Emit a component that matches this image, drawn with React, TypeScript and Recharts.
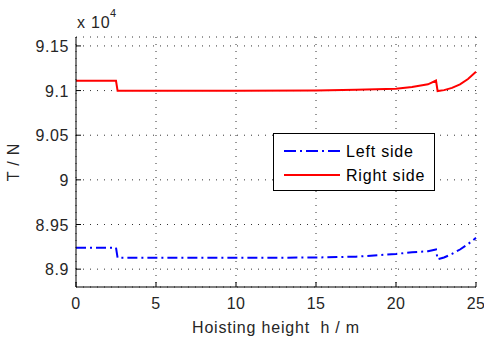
import { LineChart, Line, XAxis, YAxis, CartesianGrid } from "recharts";

// hoisting height h / m
const heights = [0, 2.5, 2.6, 5, 10, 15, 17.5, 20, 21, 22, 22.5, 22.6, 23, 23.5, 24, 24.5, 25];
// tension T / N (x 10^4)
const leftSide = [8.924, 8.924, 8.9127, 8.9127, 8.9127, 8.913, 8.914, 8.917, 8.919, 8.92, 8.922, 8.911, 8.913, 8.917, 8.922, 8.928, 8.935];
const rightSide = [9.111, 9.111, 9.0997, 9.0997, 9.0997, 9.1, 9.1008, 9.102, 9.104, 9.107, 9.1112, 9.0995, 9.1005, 9.103, 9.107, 9.113, 9.121];

const xTicks = [0, 5, 10, 15, 20, 25];
const yTicks = [8.9, 8.95, 9, 9.05, 9.1, 9.15];

const data = heights.map((h, i) => ({ h, left: leftSide[i], right: rightSide[i] }));

const FONT = "Liberation Sans, Arial, sans-serif";
const TXT = { fontSize: 16, fontFamily: FONT, fill: "#262626", letterSpacing: 0.8 };

function BottomTick({ x, y, payload }: any) {
  return (
    <g>
      <line x1={x} x2={x} y1={y} y2={y - 5} stroke="#000" />
      <text x={x} y={y + 22} textAnchor="middle" {...TXT} letterSpacing={0.4}>
        {payload.value}
      </text>
    </g>
  );
}

function LeftTick({ x, y, payload }: any) {
  return (
    <g>
      <line x1={x} x2={x + 5} y1={y} y2={y} stroke="#000" />
      <text x={x - 7} y={y + 6} textAnchor="end" {...TXT} letterSpacing={0.6}>
        {payload.value}
      </text>
    </g>
  );
}

function TopTick({ x, y }: any) {
  return <line x1={x} x2={x} y1={y} y2={y + 5} stroke="#000" />;
}

function RightTick({ x, y }: any) {
  return <line x1={x} x2={x - 5} y1={y} y2={y} stroke="#000" />;
}

function Overlay() {
  return (
    <svg width={484} height={340} style={{ position: "absolute", left: 0, top: 0, pointerEvents: "none" }}>
      <text x={77} y={28} {...TXT}>
        x 10
      </text>
      <text x={110} y={17} {...TXT} fontSize={11} letterSpacing={0}>
        4
      </text>
      <rect x={273.5} y={133.5} width={161} height={57} fill="#fff" stroke="#000" />
      <line x1={284} x2={340} y1={151} y2={151} stroke="#0000ff" strokeWidth={2} strokeDasharray="12 4 2 4" />
      <text x={346} y={157} {...TXT} fill="#000">
        Left side
      </text>
      <line x1={284} x2={340} y1={175} y2={175} stroke="#ff0000" strokeWidth={2} />
      <text x={346} y={181} {...TXT} fill="#000">
        Right side
      </text>
    </svg>
  );
}

export default function App() {
  return (
    <div style={{ position: "absolute", left: 0, top: 0, width: 484, height: 340, background: "#fff" }}>
      <LineChart width={484} height={340} data={data} margin={{ top: 37, right: 8, bottom: 0, left: 0 }}>
        <CartesianGrid xAxisId="bottom" yAxisId="left" stroke="#333" strokeDasharray="1 6" />
        <XAxis
          xAxisId="bottom"
          dataKey="h"
          type="number"
          domain={[0, 25]}
          ticks={xTicks}
          height={53}
          stroke="#000"
          tickLine={false}
          tickSize={0}
          tickMargin={0}
          tick={<BottomTick />}
          label={{ value: "Hoisting height\u00a0\u00a0h / m", position: "insideBottom", offset: 7, ...TXT }}
        />
        <XAxis
          xAxisId="top"
          orientation="top"
          dataKey="h"
          type="number"
          domain={[0, 25]}
          ticks={xTicks}
          height={0}
          stroke="#000"
          tickLine={false}
          tickSize={0}
          tickMargin={0}
          tick={<TopTick />}
        />
        <YAxis
          yAxisId="left"
          type="number"
          domain={[8.88, 9.16]}
          ticks={yTicks}
          width={76}
          stroke="#000"
          tickLine={false}
          tickSize={0}
          tickMargin={0}
          tick={<LeftTick />}
          label={{ value: "T / N", angle: -90, position: "insideLeft", offset: 13, ...TXT, style: { textAnchor: "middle" } }}
        />
        <YAxis
          yAxisId="right"
          orientation="right"
          type="number"
          domain={[8.88, 9.16]}
          ticks={yTicks}
          width={0}
          stroke="#000"
          tickLine={false}
          tickSize={0}
          tickMargin={0}
          tick={<RightTick />}
        />
        <Line
          xAxisId="bottom"
          yAxisId="left"
          dataKey="left"
          type="linear"
          stroke="#0000ff"
          strokeWidth={2}
          strokeDasharray="10 4 2 4"
          dot={false}
          isAnimationActive={false}
        />
        <Line
          xAxisId="bottom"
          yAxisId="left"
          dataKey="right"
          type="linear"
          stroke="#ff0000"
          strokeWidth={2}
          dot={false}
          isAnimationActive={false}
        />
      </LineChart>
      <Overlay />
    </div>
  );
}
